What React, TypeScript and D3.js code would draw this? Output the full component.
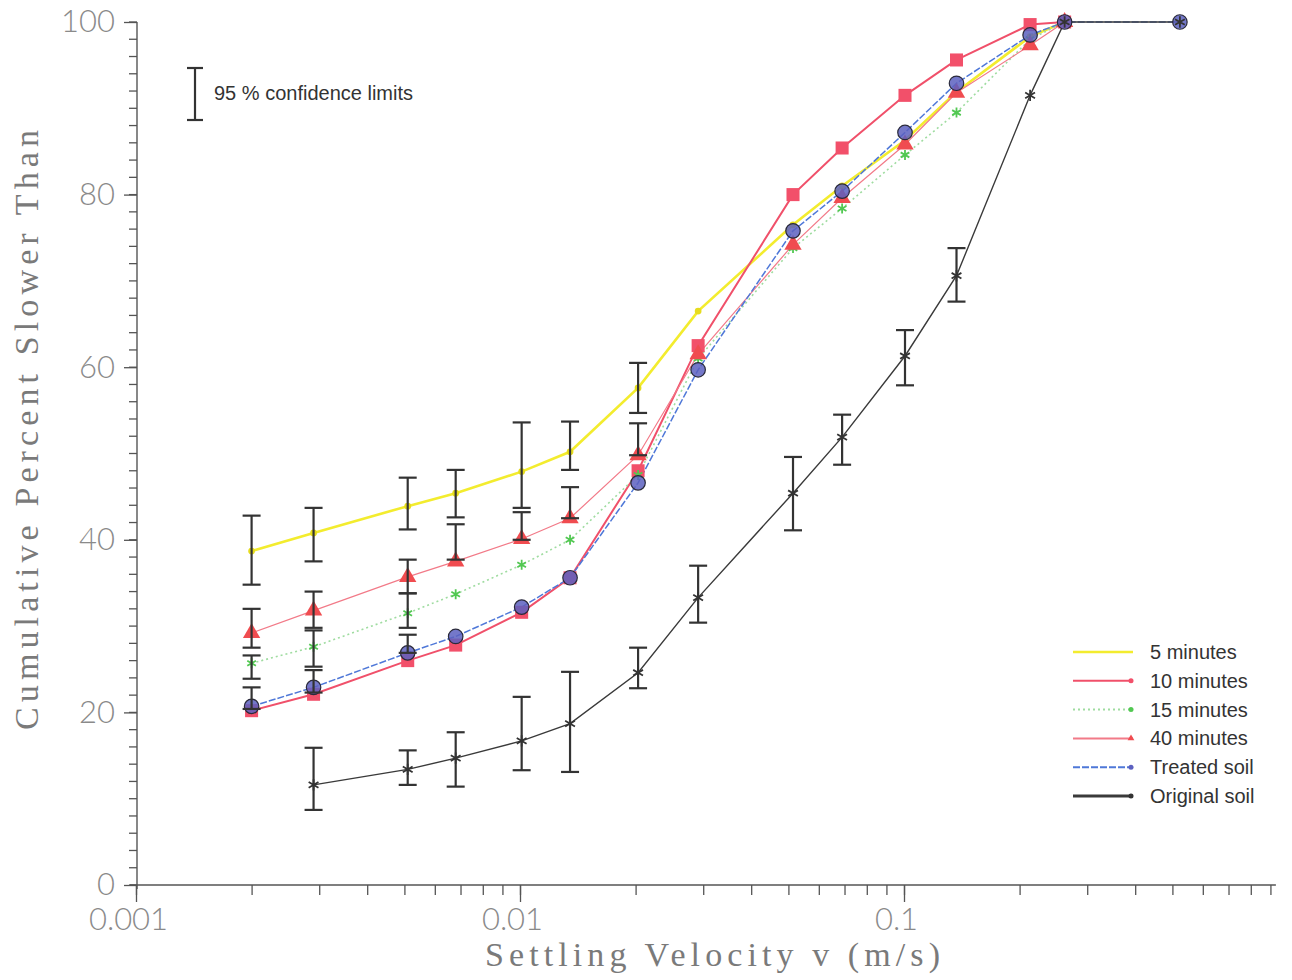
import { useEffect, useRef } from "react";
import * as d3 from "d3";

// settling velocity (m/s) of each sampling point
const velocity = [0.002, 0.0029, 0.0051, 0.0068, 0.0101, 0.0135, 0.0203, 0.0291, 0.0514, 0.069, 0.1006, 0.137, 0.213, 0.262, 0.523];

const min5 = [38.7, 40.8, 43.9, 45.4, 47.9, 50.2, 57.6, 66.5, 76.5, 81.0, 86.3, 91.9, 98.3, 100, null];
const min10 = [20.2, 22.1, 26.0, 27.8, 31.6, 35.6, 48.0, 62.5, 80.0, 85.4, 91.5, 95.6, 99.7, 100, null];
const min15 = [25.7, 27.6, 31.5, 33.7, 37.1, 40.0, 47.5, 61.0, 73.8, 78.4, 84.6, 89.5, 98.0, 100, null];
const min40 = [29.2, 31.8, 35.7, 37.5, 40.1, 42.5, 49.8, 61.5, 74.2, 79.6, 85.8, 91.8, 97.3, 100, null];
const treated = [20.7, 22.9, 26.9, 28.8, 32.2, 35.6, 46.6, 59.7, 75.8, 80.4, 87.2, 92.9, 98.5, 100, 100];
const original = [null, 11.6, 13.4, 14.7, 16.7, 18.7, 24.6, 33.3, 45.4, 51.9, 61.3, 70.6, 91.5, 100, 100];

// 95 % confidence limits (low / high)
const min5Lo = [34.8, 37.5, 41.2, 42.6, 43.7, 48.1, 54.7];
const min5Hi = [42.8, 43.7, 47.2, 48.1, 53.6, 53.7, 60.5];
const min15Lo = [23.9, 25.3, 29.8];
const min15Hi = [26.6, 29.5, 33.8];
const min40Lo = [27.5, 29.8, 33.8, 37.7, 40.0, 42.5, 49.8];
const min40Hi = [32.0, 34.0, 37.7, 41.8, 43.2, 46.1, 53.5];
const treatedLo = [20.4, 22.3, 26.9];
const treatedHi = [22.9, 24.9, 29.0];
const originalLo = [null, 8.7, 11.6, 11.4, 13.3, 13.1, 22.8, 30.4, 41.1, 48.7, 57.9, 67.6];
const originalHi = [null, 15.9, 15.6, 17.7, 21.8, 24.7, 27.5, 37.0, 49.6, 54.5, 64.3, 73.8];

const seriesNames = ["5 minutes", "10 minutes", "15 minutes", "40 minutes", "Treated soil", "Original soil"];
const yTicks = [0, 20, 40, 60, 80, 100];
const xTicks = [0.001, 0.01, 0.1];
const xTickLabels = ["0.001", "0.01", "0.1"];

export default function App() {
  const ref = useRef<SVGSVGElement>(null);

  useEffect(() => {
    const svg = d3.select(ref.current);
    svg.selectAll("*").remove();

    const x = d3.scaleLog().domain([0.001, 0.93]).range([136, 136 + 384 * Math.log10(930)]);
    const y = d3.scaleLinear().domain([0, 100]).range([885, 22]);

    const axisColor = "#555";
    const labelFont = "Lato, 'Open Sans', sans-serif";

    // y axis: minor ticks every 2 %, drawn by hand
    svg.append("g").selectAll("line").data(d3.range(0, 101, 2)).enter().append("line")
      .attr("x1", 129).attr("x2", 137).attr("y1", d => y(d)).attr("y2", d => y(d))
      .attr("stroke", axisColor).attr("stroke-width", 1.3);
    const yMajor = svg.append("g").attr("transform", "translate(137,0)")
      .call(d3.axisLeft(y).tickValues(yTicks).tickSize(13).tickSizeOuter(0).tickPadding(9));
    yMajor.select(".domain").remove();
    yMajor.selectAll("text").attr("font-family", labelFont).attr("font-weight", 300)
      .attr("font-size", 31).attr("fill", "#8a8a8a");

    // x axis
    const xMinor = svg.append("g").attr("transform", "translate(0,885)")
      .call(d3.axisBottom(x).tickValues(x.ticks()).tickSize(10).tickSizeOuter(0).tickFormat(() => ""));
    xMinor.select(".domain").remove();
    const xMajor = svg.append("g").attr("transform", "translate(0,885)")
      .call(d3.axisBottom(x).tickValues(xTicks).tickSize(17).tickSizeOuter(0)
        .tickFormat((_, i) => xTickLabels[i]).tickPadding(6));
    xMajor.select(".domain").remove();
    xMajor.selectAll("text").attr("font-family", labelFont).attr("font-weight", 300)
      .attr("font-size", 31).attr("fill", "#8a8a8a").attr("dx", -8);
    svg.selectAll(".tick line").attr("stroke", axisColor).attr("stroke-width", 1.3);

    svg.append("line").attr("x1", 137).attr("x2", 137).attr("y1", y(100)).attr("y2", y(0) + 4)
      .attr("stroke", axisColor).attr("stroke-width", 1.4);
    svg.append("line").attr("x1", 130).attr("x2", x(0.93)).attr("y1", y(0)).attr("y2", y(0))
      .attr("stroke", axisColor).attr("stroke-width", 1.4);

    // titles
    svg.append("text").attr("x", 485).attr("y", 966)
      .attr("textLength", 455).attr("lengthAdjust", "spacing")
      .attr("font-family", "'Liberation Serif', 'DejaVu Serif', serif").attr("font-size", 34)
      .attr("fill", "#7a7a7a").text("Settling Velocity v (m/s)");
    svg.append("text").attr("transform", "translate(38,730) rotate(-90)")
      .attr("textLength", 600).attr("lengthAdjust", "spacing")
      .attr("font-family", "'Liberation Serif', 'DejaVu Serif', serif").attr("font-size", 34)
      .attr("fill", "#7a7a7a").text("Cumulative Percent Slower Than");

    const series = [
      { name: seriesNames[0], values: min5, lo: min5Lo, hi: min5Hi, color: "#f3ec2e", width: 2.6, dash: null, marker: "dot", mfill: "#e6dc1e" },
      { name: seriesNames[1], values: min10, lo: [], hi: [], color: "#f0506a", width: 2, dash: null, marker: "square", mfill: "#f2506a" },
      { name: seriesNames[2], values: min15, lo: min15Lo, hi: min15Hi, color: "#9fdca0", width: 1.6, dash: "2 3", marker: "star", mfill: "#52c852" },
      { name: seriesNames[3], values: min40, lo: min40Lo, hi: min40Hi, color: "#f27a88", width: 1.2, dash: null, marker: "triangle", mfill: "#f04c50" },
      { name: seriesNames[4], values: treated, lo: treatedLo, hi: treatedHi, color: "#4f78d8", width: 1.5, dash: "7 2", marker: "circle", mfill: "#5c60c0" },
      { name: seriesNames[5], values: original, lo: originalLo, hi: originalHi, color: "#3a3a3a", width: 1.4, dash: null, marker: "asterisk", mfill: "#333" },
    ];

    const line = d3.line<[number, number | null]>()
      .defined(d => d[1] != null)
      .x(d => x(d[0]))
      .y(d => y(d[1] as number));

    const symbolFor = (m: string) => {
      if (m === "square") return d3.symbol(d3.symbolSquare, 170);
      if (m === "triangle") return d3.symbol(d3.symbolTriangle, 130);
      if (m === "circle") return d3.symbol(d3.symbolCircle, 165);
      if (m === "star") return d3.symbol((d3 as any).symbolAsterisk || d3.symbolCross, 70);
      if (m === "asterisk") return d3.symbol((d3 as any).symbolAsterisk || d3.symbolCross, 90);
      return d3.symbol(d3.symbolCircle, 36);
    };
    const stroked = (m: string) => m === "star" || m === "asterisk";

    const plot = svg.append("g");
    series.forEach(s => {
      plot.append("path")
        .datum(velocity.map((v, i) => [v, s.values[i]] as [number, number | null]))
        .attr("d", line as any)
        .attr("fill", "none").attr("stroke", s.color).attr("stroke-width", s.width)
        .attr("stroke-dasharray", s.dash);
    });

    series.forEach(s => {
      const pts = velocity.map((v, i) => ({ v, val: s.values[i] })).filter(d => d.val != null);
      plot.selectAll(null).data(pts).enter().append("path")
        .attr("transform", d => `translate(${x(d.v)},${y(d.val as number)})`)
        .attr("d", symbolFor(s.marker) as any)
        .attr("fill", stroked(s.marker) ? "none" : s.mfill)
        .attr("fill-opacity", s.marker === "circle" ? 0.85 : 1)
        .attr("stroke", stroked(s.marker) ? s.mfill : (s.marker === "circle" ? "#2a2a3a" : "none"))
        .attr("stroke-width", stroked(s.marker) ? 1.8 : 1.2);
    });

    // confidence limits
    const bar = (g: any, cx: number, y1: number, y2: number, cap: number) => {
      g.append("line").attr("x1", cx).attr("x2", cx).attr("y1", y1).attr("y2", y2);
      g.append("line").attr("x1", cx - cap).attr("x2", cx + cap).attr("y1", y1).attr("y2", y1);
      g.append("line").attr("x1", cx - cap).attr("x2", cx + cap).attr("y1", y2).attr("y2", y2);
    };
    const bars = svg.append("g").attr("stroke", "#333").attr("stroke-width", 2.2);
    series.forEach(s => {
      s.lo.forEach((lo, i) => {
        const hi = s.hi[i];
        if (lo == null || hi == null) return;
        bar(bars, x(velocity[i]), y(hi), y(lo), 9);
      });
    });

    // confidence key
    const key = svg.append("g").attr("stroke", "#333").attr("stroke-width", 2.2);
    bar(key, 195, 68, 120, 8);
    svg.append("text").attr("x", 214).attr("y", 100)
      .attr("font-family", "'Liberation Sans', Arial, sans-serif").attr("font-size", 20)
      .attr("fill", "#333").text("95 % confidence limits");

    // legend
    const legend = svg.append("g");
    series.forEach((s, i) => {
      const ly = 652 + i * 28.8;
      legend.append("line").attr("x1", 1073).attr("x2", 1133).attr("y1", ly).attr("y2", ly)
        .attr("stroke", s.color).attr("stroke-width", i === 5 ? 3.2 : Math.max(s.width, 2))
        .attr("stroke-dasharray", s.dash);
      if (s.marker !== "dot") {
        legend.append("path").attr("transform", `translate(1131,${ly})`)
          .attr("d", d3.symbol(s.marker === "triangle" ? d3.symbolTriangle : d3.symbolCircle, 20)() as string)
          .attr("fill", s.mfill);
      }
      legend.append("text").attr("x", 1150).attr("y", ly + 7)
        .attr("font-family", "'Liberation Sans', Arial, sans-serif").attr("font-size", 20)
        .attr("fill", "#333").text(s.name);
    });
  }, []);

  return (
    <div style={{ position: "absolute", left: 0, top: 0 }}>
      <svg ref={ref} width={1292} height={980} style={{ display: "block", background: "#fff" }} />
    </div>
  );
}
